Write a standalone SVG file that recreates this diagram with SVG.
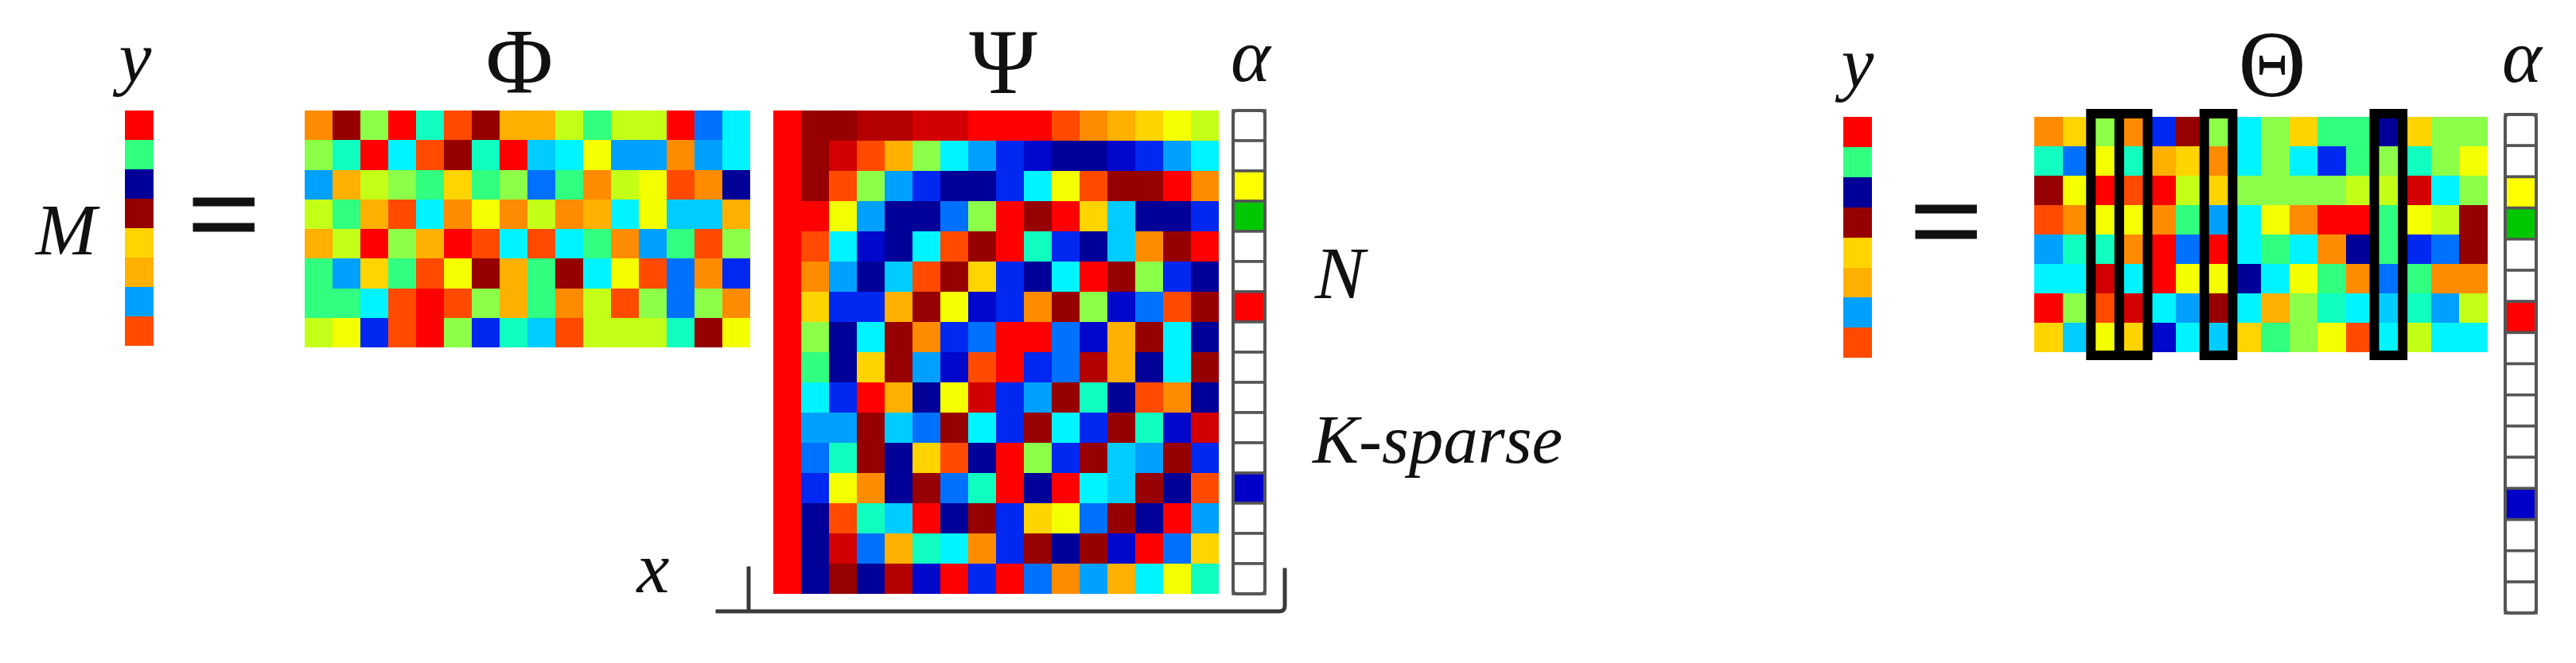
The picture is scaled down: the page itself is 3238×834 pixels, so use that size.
<svg xmlns="http://www.w3.org/2000/svg" width="3238" height="834" viewBox="0 0 3238 834">
<style>
text{font-family:"Liberation Serif","Times New Roman",serif;fill:#111}
.it{font-style:italic}
.mat rect{shape-rendering:crispEdges}
.r{fill:#ff0000}.d{fill:#960000}.f{fill:#b40000}.e{fill:#d20000}.o{fill:#ff4a00}.n{fill:#ff8c00}.g{fill:#ffb000}.h{fill:#ffd400}.y{fill:#f4ff00}.k{fill:#c4ff18}.l{fill:#8cff48}.m{fill:#30ff80}.t{fill:#10ffc0}.c{fill:#00f4ff}.a{fill:#00ccff}.s{fill:#00a0ff}.u{fill:#0070ff}.b{fill:#0028f0}.w{fill:#0008cc}.v{fill:#000098}
.cell{stroke:#555;stroke-width:3.5}
.wh{fill:#fff}.ay{fill:#ffff00}.ag{fill:#00c800}.ar{fill:#ff0000}.ab{fill:#0000c8}
.frame{fill:none;stroke:#555;stroke-width:4}
.box{fill:none;stroke:#000;stroke-width:12}
.br{fill:none;stroke:#3a3a3a;stroke-width:5;stroke-linecap:square}
</style>
<rect width="3238" height="834" fill="#fff"/>

<g id="label-y-left"><text class="it" x="170" y="103" font-size="92" text-anchor="middle">y</text></g>
<g id="label-M"><text class="it" x="83" y="320" font-size="92" text-anchor="middle">M</text></g>

<g id="y-left" class="mat" transform="translate(157,139) scale(36,37)">
<rect x="0" y="0" width="1" height="1" class="r"/><rect x="0" y="1" width="1" height="1" class="m"/><rect x="0" y="2" width="1" height="1" class="v"/><rect x="0" y="3" width="1" height="1" class="d"/><rect x="0" y="4" width="1" height="1" class="h"/><rect x="0" y="5" width="1" height="1" class="g"/><rect x="0" y="6" width="1" height="1" class="s"/><rect x="0" y="7" width="1" height="1" class="o"/>
</g>

<g id="eq-left"><text x="281" y="323" font-size="160" text-anchor="middle" stroke="#111" stroke-width="3">=</text></g>

<g id="label-phi"><text x="653" y="117" font-size="116" text-anchor="middle">Φ</text></g>
<g id="phi" class="mat" transform="translate(383,139) scale(35,37.25)">
<rect x="0" y="0" width="1" height="1" class="n"/><rect x="1" y="0" width="1" height="1" class="d"/><rect x="2" y="0" width="1" height="1" class="l"/><rect x="3" y="0" width="1" height="1" class="r"/><rect x="4" y="0" width="1" height="1" class="t"/><rect x="5" y="0" width="1" height="1" class="o"/><rect x="6" y="0" width="1" height="1" class="d"/><rect x="7" y="0" width="1" height="1" class="g"/><rect x="8" y="0" width="1" height="1" class="g"/><rect x="9" y="0" width="1" height="1" class="k"/><rect x="10" y="0" width="1" height="1" class="m"/><rect x="11" y="0" width="1" height="1" class="k"/><rect x="12" y="0" width="1" height="1" class="k"/><rect x="13" y="0" width="1" height="1" class="r"/><rect x="14" y="0" width="1" height="1" class="u"/><rect x="15" y="0" width="1" height="1" class="c"/>
<rect x="0" y="1" width="1" height="1" class="l"/><rect x="1" y="1" width="1" height="1" class="t"/><rect x="2" y="1" width="1" height="1" class="r"/><rect x="3" y="1" width="1" height="1" class="c"/><rect x="4" y="1" width="1" height="1" class="o"/><rect x="5" y="1" width="1" height="1" class="d"/><rect x="6" y="1" width="1" height="1" class="t"/><rect x="7" y="1" width="1" height="1" class="r"/><rect x="8" y="1" width="1" height="1" class="a"/><rect x="9" y="1" width="1" height="1" class="c"/><rect x="10" y="1" width="1" height="1" class="y"/><rect x="11" y="1" width="1" height="1" class="s"/><rect x="12" y="1" width="1" height="1" class="s"/><rect x="13" y="1" width="1" height="1" class="n"/><rect x="14" y="1" width="1" height="1" class="s"/><rect x="15" y="1" width="1" height="1" class="c"/>
<rect x="0" y="2" width="1" height="1" class="s"/><rect x="1" y="2" width="1" height="1" class="g"/><rect x="2" y="2" width="1" height="1" class="k"/><rect x="3" y="2" width="1" height="1" class="l"/><rect x="4" y="2" width="1" height="1" class="m"/><rect x="5" y="2" width="1" height="1" class="h"/><rect x="6" y="2" width="1" height="1" class="m"/><rect x="7" y="2" width="1" height="1" class="l"/><rect x="8" y="2" width="1" height="1" class="u"/><rect x="9" y="2" width="1" height="1" class="m"/><rect x="10" y="2" width="1" height="1" class="n"/><rect x="11" y="2" width="1" height="1" class="k"/><rect x="12" y="2" width="1" height="1" class="y"/><rect x="13" y="2" width="1" height="1" class="o"/><rect x="14" y="2" width="1" height="1" class="n"/><rect x="15" y="2" width="1" height="1" class="v"/>
<rect x="0" y="3" width="1" height="1" class="k"/><rect x="1" y="3" width="1" height="1" class="m"/><rect x="2" y="3" width="1" height="1" class="g"/><rect x="3" y="3" width="1" height="1" class="o"/><rect x="4" y="3" width="1" height="1" class="c"/><rect x="5" y="3" width="1" height="1" class="n"/><rect x="6" y="3" width="1" height="1" class="y"/><rect x="7" y="3" width="1" height="1" class="n"/><rect x="8" y="3" width="1" height="1" class="k"/><rect x="9" y="3" width="1" height="1" class="n"/><rect x="10" y="3" width="1" height="1" class="g"/><rect x="11" y="3" width="1" height="1" class="c"/><rect x="12" y="3" width="1" height="1" class="y"/><rect x="13" y="3" width="1" height="1" class="a"/><rect x="14" y="3" width="1" height="1" class="a"/><rect x="15" y="3" width="1" height="1" class="g"/>
<rect x="0" y="4" width="1" height="1" class="g"/><rect x="1" y="4" width="1" height="1" class="k"/><rect x="2" y="4" width="1" height="1" class="r"/><rect x="3" y="4" width="1" height="1" class="l"/><rect x="4" y="4" width="1" height="1" class="g"/><rect x="5" y="4" width="1" height="1" class="r"/><rect x="6" y="4" width="1" height="1" class="o"/><rect x="7" y="4" width="1" height="1" class="c"/><rect x="8" y="4" width="1" height="1" class="o"/><rect x="9" y="4" width="1" height="1" class="c"/><rect x="10" y="4" width="1" height="1" class="m"/><rect x="11" y="4" width="1" height="1" class="n"/><rect x="12" y="4" width="1" height="1" class="s"/><rect x="13" y="4" width="1" height="1" class="m"/><rect x="14" y="4" width="1" height="1" class="o"/><rect x="15" y="4" width="1" height="1" class="l"/>
<rect x="0" y="5" width="1" height="1" class="m"/><rect x="1" y="5" width="1" height="1" class="s"/><rect x="2" y="5" width="1" height="1" class="h"/><rect x="3" y="5" width="1" height="1" class="m"/><rect x="4" y="5" width="1" height="1" class="o"/><rect x="5" y="5" width="1" height="1" class="y"/><rect x="6" y="5" width="1" height="1" class="d"/><rect x="7" y="5" width="1" height="1" class="g"/><rect x="8" y="5" width="1" height="1" class="m"/><rect x="9" y="5" width="1" height="1" class="d"/><rect x="10" y="5" width="1" height="1" class="c"/><rect x="11" y="5" width="1" height="1" class="y"/><rect x="12" y="5" width="1" height="1" class="o"/><rect x="13" y="5" width="1" height="1" class="u"/><rect x="14" y="5" width="1" height="1" class="n"/><rect x="15" y="5" width="1" height="1" class="b"/>
<rect x="0" y="6" width="1" height="1" class="m"/><rect x="1" y="6" width="1" height="1" class="m"/><rect x="2" y="6" width="1" height="1" class="c"/><rect x="3" y="6" width="1" height="1" class="o"/><rect x="4" y="6" width="1" height="1" class="r"/><rect x="5" y="6" width="1" height="1" class="o"/><rect x="6" y="6" width="1" height="1" class="l"/><rect x="7" y="6" width="1" height="1" class="g"/><rect x="8" y="6" width="1" height="1" class="m"/><rect x="9" y="6" width="1" height="1" class="n"/><rect x="10" y="6" width="1" height="1" class="k"/><rect x="11" y="6" width="1" height="1" class="o"/><rect x="12" y="6" width="1" height="1" class="l"/><rect x="13" y="6" width="1" height="1" class="u"/><rect x="14" y="6" width="1" height="1" class="l"/><rect x="15" y="6" width="1" height="1" class="n"/>
<rect x="0" y="7" width="1" height="1" class="k"/><rect x="1" y="7" width="1" height="1" class="y"/><rect x="2" y="7" width="1" height="1" class="b"/><rect x="3" y="7" width="1" height="1" class="o"/><rect x="4" y="7" width="1" height="1" class="r"/><rect x="5" y="7" width="1" height="1" class="l"/><rect x="6" y="7" width="1" height="1" class="b"/><rect x="7" y="7" width="1" height="1" class="t"/><rect x="8" y="7" width="1" height="1" class="a"/><rect x="9" y="7" width="1" height="1" class="o"/><rect x="10" y="7" width="1" height="1" class="k"/><rect x="11" y="7" width="1" height="1" class="k"/><rect x="12" y="7" width="1" height="1" class="k"/><rect x="13" y="7" width="1" height="1" class="t"/><rect x="14" y="7" width="1" height="1" class="d"/><rect x="15" y="7" width="1" height="1" class="y"/>
</g>

<g id="label-psi"><text x="1261" y="117" font-size="116" text-anchor="middle">Ψ</text></g>
<g id="psi" class="mat" transform="translate(972,139) scale(35,38)">
<rect x="0" y="0" width="1" height="1" class="r"/><rect x="1" y="0" width="1" height="1" class="d"/><rect x="2" y="0" width="1" height="1" class="d"/><rect x="3" y="0" width="1" height="1" class="f"/><rect x="4" y="0" width="1" height="1" class="f"/><rect x="5" y="0" width="1" height="1" class="e"/><rect x="6" y="0" width="1" height="1" class="e"/><rect x="7" y="0" width="1" height="1" class="r"/><rect x="8" y="0" width="1" height="1" class="r"/><rect x="9" y="0" width="1" height="1" class="r"/><rect x="10" y="0" width="1" height="1" class="o"/><rect x="11" y="0" width="1" height="1" class="n"/><rect x="12" y="0" width="1" height="1" class="g"/><rect x="13" y="0" width="1" height="1" class="h"/><rect x="14" y="0" width="1" height="1" class="y"/><rect x="15" y="0" width="1" height="1" class="k"/>
<rect x="0" y="1" width="1" height="1" class="r"/><rect x="1" y="1" width="1" height="1" class="d"/><rect x="2" y="1" width="1" height="1" class="e"/><rect x="3" y="1" width="1" height="1" class="o"/><rect x="4" y="1" width="1" height="1" class="g"/><rect x="5" y="1" width="1" height="1" class="l"/><rect x="6" y="1" width="1" height="1" class="c"/><rect x="7" y="1" width="1" height="1" class="s"/><rect x="8" y="1" width="1" height="1" class="b"/><rect x="9" y="1" width="1" height="1" class="w"/><rect x="10" y="1" width="1" height="1" class="v"/><rect x="11" y="1" width="1" height="1" class="v"/><rect x="12" y="1" width="1" height="1" class="w"/><rect x="13" y="1" width="1" height="1" class="b"/><rect x="14" y="1" width="1" height="1" class="s"/><rect x="15" y="1" width="1" height="1" class="c"/>
<rect x="0" y="2" width="1" height="1" class="r"/><rect x="1" y="2" width="1" height="1" class="d"/><rect x="2" y="2" width="1" height="1" class="o"/><rect x="3" y="2" width="1" height="1" class="l"/><rect x="4" y="2" width="1" height="1" class="s"/><rect x="5" y="2" width="1" height="1" class="b"/><rect x="6" y="2" width="1" height="1" class="v"/><rect x="7" y="2" width="1" height="1" class="v"/><rect x="8" y="2" width="1" height="1" class="b"/><rect x="9" y="2" width="1" height="1" class="c"/><rect x="10" y="2" width="1" height="1" class="y"/><rect x="11" y="2" width="1" height="1" class="o"/><rect x="12" y="2" width="1" height="1" class="d"/><rect x="13" y="2" width="1" height="1" class="d"/><rect x="14" y="2" width="1" height="1" class="r"/><rect x="15" y="2" width="1" height="1" class="n"/>
<rect x="0" y="3" width="1" height="1" class="r"/><rect x="1" y="3" width="1" height="1" class="r"/><rect x="2" y="3" width="1" height="1" class="y"/><rect x="3" y="3" width="1" height="1" class="s"/><rect x="4" y="3" width="1" height="1" class="v"/><rect x="5" y="3" width="1" height="1" class="v"/><rect x="6" y="3" width="1" height="1" class="u"/><rect x="7" y="3" width="1" height="1" class="l"/><rect x="8" y="3" width="1" height="1" class="r"/><rect x="9" y="3" width="1" height="1" class="d"/><rect x="10" y="3" width="1" height="1" class="r"/><rect x="11" y="3" width="1" height="1" class="h"/><rect x="12" y="3" width="1" height="1" class="a"/><rect x="13" y="3" width="1" height="1" class="v"/><rect x="14" y="3" width="1" height="1" class="v"/><rect x="15" y="3" width="1" height="1" class="b"/>
<rect x="0" y="4" width="1" height="1" class="r"/><rect x="1" y="4" width="1" height="1" class="o"/><rect x="2" y="4" width="1" height="1" class="c"/><rect x="3" y="4" width="1" height="1" class="w"/><rect x="4" y="4" width="1" height="1" class="v"/><rect x="5" y="4" width="1" height="1" class="c"/><rect x="6" y="4" width="1" height="1" class="o"/><rect x="7" y="4" width="1" height="1" class="d"/><rect x="8" y="4" width="1" height="1" class="r"/><rect x="9" y="4" width="1" height="1" class="t"/><rect x="10" y="4" width="1" height="1" class="b"/><rect x="11" y="4" width="1" height="1" class="v"/><rect x="12" y="4" width="1" height="1" class="a"/><rect x="13" y="4" width="1" height="1" class="n"/><rect x="14" y="4" width="1" height="1" class="d"/><rect x="15" y="4" width="1" height="1" class="r"/>
<rect x="0" y="5" width="1" height="1" class="r"/><rect x="1" y="5" width="1" height="1" class="n"/><rect x="2" y="5" width="1" height="1" class="s"/><rect x="3" y="5" width="1" height="1" class="v"/><rect x="4" y="5" width="1" height="1" class="a"/><rect x="5" y="5" width="1" height="1" class="o"/><rect x="6" y="5" width="1" height="1" class="d"/><rect x="7" y="5" width="1" height="1" class="h"/><rect x="8" y="5" width="1" height="1" class="b"/><rect x="9" y="5" width="1" height="1" class="v"/><rect x="10" y="5" width="1" height="1" class="c"/><rect x="11" y="5" width="1" height="1" class="r"/><rect x="12" y="5" width="1" height="1" class="d"/><rect x="13" y="5" width="1" height="1" class="l"/><rect x="14" y="5" width="1" height="1" class="b"/><rect x="15" y="5" width="1" height="1" class="v"/>
<rect x="0" y="6" width="1" height="1" class="r"/><rect x="1" y="6" width="1" height="1" class="h"/><rect x="2" y="6" width="1" height="1" class="b"/><rect x="3" y="6" width="1" height="1" class="b"/><rect x="4" y="6" width="1" height="1" class="g"/><rect x="5" y="6" width="1" height="1" class="d"/><rect x="6" y="6" width="1" height="1" class="y"/><rect x="7" y="6" width="1" height="1" class="w"/><rect x="8" y="6" width="1" height="1" class="b"/><rect x="9" y="6" width="1" height="1" class="n"/><rect x="10" y="6" width="1" height="1" class="d"/><rect x="11" y="6" width="1" height="1" class="l"/><rect x="12" y="6" width="1" height="1" class="w"/><rect x="13" y="6" width="1" height="1" class="u"/><rect x="14" y="6" width="1" height="1" class="o"/><rect x="15" y="6" width="1" height="1" class="d"/>
<rect x="0" y="7" width="1" height="1" class="r"/><rect x="1" y="7" width="1" height="1" class="l"/><rect x="2" y="7" width="1" height="1" class="v"/><rect x="3" y="7" width="1" height="1" class="c"/><rect x="4" y="7" width="1" height="1" class="d"/><rect x="5" y="7" width="1" height="1" class="n"/><rect x="6" y="7" width="1" height="1" class="b"/><rect x="7" y="7" width="1" height="1" class="u"/><rect x="8" y="7" width="1" height="1" class="r"/><rect x="9" y="7" width="1" height="1" class="r"/><rect x="10" y="7" width="1" height="1" class="u"/><rect x="11" y="7" width="1" height="1" class="w"/><rect x="12" y="7" width="1" height="1" class="g"/><rect x="13" y="7" width="1" height="1" class="d"/><rect x="14" y="7" width="1" height="1" class="c"/><rect x="15" y="7" width="1" height="1" class="v"/>
<rect x="0" y="8" width="1" height="1" class="r"/><rect x="1" y="8" width="1" height="1" class="m"/><rect x="2" y="8" width="1" height="1" class="v"/><rect x="3" y="8" width="1" height="1" class="h"/><rect x="4" y="8" width="1" height="1" class="d"/><rect x="5" y="8" width="1" height="1" class="s"/><rect x="6" y="8" width="1" height="1" class="w"/><rect x="7" y="8" width="1" height="1" class="o"/><rect x="8" y="8" width="1" height="1" class="r"/><rect x="9" y="8" width="1" height="1" class="b"/><rect x="10" y="8" width="1" height="1" class="u"/><rect x="11" y="8" width="1" height="1" class="f"/><rect x="12" y="8" width="1" height="1" class="g"/><rect x="13" y="8" width="1" height="1" class="v"/><rect x="14" y="8" width="1" height="1" class="c"/><rect x="15" y="8" width="1" height="1" class="d"/>
<rect x="0" y="9" width="1" height="1" class="r"/><rect x="1" y="9" width="1" height="1" class="c"/><rect x="2" y="9" width="1" height="1" class="b"/><rect x="3" y="9" width="1" height="1" class="r"/><rect x="4" y="9" width="1" height="1" class="g"/><rect x="5" y="9" width="1" height="1" class="v"/><rect x="6" y="9" width="1" height="1" class="y"/><rect x="7" y="9" width="1" height="1" class="e"/><rect x="8" y="9" width="1" height="1" class="b"/><rect x="9" y="9" width="1" height="1" class="s"/><rect x="10" y="9" width="1" height="1" class="d"/><rect x="11" y="9" width="1" height="1" class="t"/><rect x="12" y="9" width="1" height="1" class="v"/><rect x="13" y="9" width="1" height="1" class="o"/><rect x="14" y="9" width="1" height="1" class="n"/><rect x="15" y="9" width="1" height="1" class="v"/>
<rect x="0" y="10" width="1" height="1" class="r"/><rect x="1" y="10" width="1" height="1" class="s"/><rect x="2" y="10" width="1" height="1" class="s"/><rect x="3" y="10" width="1" height="1" class="d"/><rect x="4" y="10" width="1" height="1" class="a"/><rect x="5" y="10" width="1" height="1" class="u"/><rect x="6" y="10" width="1" height="1" class="d"/><rect x="7" y="10" width="1" height="1" class="c"/><rect x="8" y="10" width="1" height="1" class="b"/><rect x="9" y="10" width="1" height="1" class="d"/><rect x="10" y="10" width="1" height="1" class="c"/><rect x="11" y="10" width="1" height="1" class="b"/><rect x="12" y="10" width="1" height="1" class="d"/><rect x="13" y="10" width="1" height="1" class="t"/><rect x="14" y="10" width="1" height="1" class="w"/><rect x="15" y="10" width="1" height="1" class="e"/>
<rect x="0" y="11" width="1" height="1" class="r"/><rect x="1" y="11" width="1" height="1" class="u"/><rect x="2" y="11" width="1" height="1" class="t"/><rect x="3" y="11" width="1" height="1" class="d"/><rect x="4" y="11" width="1" height="1" class="v"/><rect x="5" y="11" width="1" height="1" class="h"/><rect x="6" y="11" width="1" height="1" class="o"/><rect x="7" y="11" width="1" height="1" class="v"/><rect x="8" y="11" width="1" height="1" class="r"/><rect x="9" y="11" width="1" height="1" class="l"/><rect x="10" y="11" width="1" height="1" class="b"/><rect x="11" y="11" width="1" height="1" class="d"/><rect x="12" y="11" width="1" height="1" class="a"/><rect x="13" y="11" width="1" height="1" class="s"/><rect x="14" y="11" width="1" height="1" class="d"/><rect x="15" y="11" width="1" height="1" class="b"/>
<rect x="0" y="12" width="1" height="1" class="r"/><rect x="1" y="12" width="1" height="1" class="b"/><rect x="2" y="12" width="1" height="1" class="y"/><rect x="3" y="12" width="1" height="1" class="n"/><rect x="4" y="12" width="1" height="1" class="v"/><rect x="5" y="12" width="1" height="1" class="d"/><rect x="6" y="12" width="1" height="1" class="u"/><rect x="7" y="12" width="1" height="1" class="t"/><rect x="8" y="12" width="1" height="1" class="r"/><rect x="9" y="12" width="1" height="1" class="v"/><rect x="10" y="12" width="1" height="1" class="r"/><rect x="11" y="12" width="1" height="1" class="c"/><rect x="12" y="12" width="1" height="1" class="a"/><rect x="13" y="12" width="1" height="1" class="d"/><rect x="14" y="12" width="1" height="1" class="v"/><rect x="15" y="12" width="1" height="1" class="o"/>
<rect x="0" y="13" width="1" height="1" class="r"/><rect x="1" y="13" width="1" height="1" class="v"/><rect x="2" y="13" width="1" height="1" class="o"/><rect x="3" y="13" width="1" height="1" class="t"/><rect x="4" y="13" width="1" height="1" class="a"/><rect x="5" y="13" width="1" height="1" class="r"/><rect x="6" y="13" width="1" height="1" class="v"/><rect x="7" y="13" width="1" height="1" class="d"/><rect x="8" y="13" width="1" height="1" class="b"/><rect x="9" y="13" width="1" height="1" class="h"/><rect x="10" y="13" width="1" height="1" class="y"/><rect x="11" y="13" width="1" height="1" class="u"/><rect x="12" y="13" width="1" height="1" class="d"/><rect x="13" y="13" width="1" height="1" class="v"/><rect x="14" y="13" width="1" height="1" class="r"/><rect x="15" y="13" width="1" height="1" class="s"/>
<rect x="0" y="14" width="1" height="1" class="r"/><rect x="1" y="14" width="1" height="1" class="v"/><rect x="2" y="14" width="1" height="1" class="e"/><rect x="3" y="14" width="1" height="1" class="u"/><rect x="4" y="14" width="1" height="1" class="g"/><rect x="5" y="14" width="1" height="1" class="t"/><rect x="6" y="14" width="1" height="1" class="c"/><rect x="7" y="14" width="1" height="1" class="n"/><rect x="8" y="14" width="1" height="1" class="b"/><rect x="9" y="14" width="1" height="1" class="d"/><rect x="10" y="14" width="1" height="1" class="v"/><rect x="11" y="14" width="1" height="1" class="d"/><rect x="12" y="14" width="1" height="1" class="w"/><rect x="13" y="14" width="1" height="1" class="r"/><rect x="14" y="14" width="1" height="1" class="u"/><rect x="15" y="14" width="1" height="1" class="h"/>
<rect x="0" y="15" width="1" height="1" class="r"/><rect x="1" y="15" width="1" height="1" class="v"/><rect x="2" y="15" width="1" height="1" class="d"/><rect x="3" y="15" width="1" height="1" class="v"/><rect x="4" y="15" width="1" height="1" class="f"/><rect x="5" y="15" width="1" height="1" class="w"/><rect x="6" y="15" width="1" height="1" class="r"/><rect x="7" y="15" width="1" height="1" class="b"/><rect x="8" y="15" width="1" height="1" class="r"/><rect x="9" y="15" width="1" height="1" class="u"/><rect x="10" y="15" width="1" height="1" class="n"/><rect x="11" y="15" width="1" height="1" class="s"/><rect x="12" y="15" width="1" height="1" class="g"/><rect x="13" y="15" width="1" height="1" class="c"/><rect x="14" y="15" width="1" height="1" class="y"/><rect x="15" y="15" width="1" height="1" class="t"/>
</g>

<g id="label-alpha-left"><text class="it" x="1572" y="102" font-size="95" text-anchor="middle">α</text></g>
<g id="alpha-left">
<rect x="1550" y="139" width="40" height="38" class="cell wh"/><rect x="1550" y="177" width="40" height="38" class="cell wh"/><rect x="1550" y="215" width="40" height="38" class="cell ay"/><rect x="1550" y="253" width="40" height="38" class="cell ag"/><rect x="1550" y="291" width="40" height="38" class="cell wh"/><rect x="1550" y="329" width="40" height="38" class="cell wh"/><rect x="1550" y="367" width="40" height="38" class="cell ar"/><rect x="1550" y="405" width="40" height="38" class="cell wh"/><rect x="1550" y="443" width="40" height="38" class="cell wh"/><rect x="1550" y="481" width="40" height="38" class="cell wh"/><rect x="1550" y="519" width="40" height="38" class="cell wh"/><rect x="1550" y="557" width="40" height="38" class="cell wh"/><rect x="1550" y="595" width="40" height="38" class="cell ab"/><rect x="1550" y="633" width="40" height="38" class="cell wh"/><rect x="1550" y="671" width="40" height="38" class="cell wh"/><rect x="1550" y="709" width="40" height="38" class="cell wh"/>
<rect x="1550" y="139" width="40" height="608" rx="5" class="frame"/>
</g>

<g id="label-N"><text class="it" x="1684" y="375" font-size="94" text-anchor="middle">N</text></g>
<g id="label-K-sparse"><text class="it" x="1650" y="582" font-size="87">K-sparse</text></g>
<g id="label-x"><text class="it" x="821" y="745" font-size="92" text-anchor="middle">x</text></g>

<g id="connectors">
<path class="br" d="M902,769 H1608 Q1615,769 1615,762 V717 M941,769 V715"/>
</g>

<g id="label-y-right"><text class="it" x="2335" y="110" font-size="92" text-anchor="middle">y</text></g>
<g id="y-right" class="mat" transform="translate(2317,147) scale(36,37.9)">
<rect x="0" y="0" width="1" height="1" class="r"/><rect x="0" y="1" width="1" height="1" class="m"/><rect x="0" y="2" width="1" height="1" class="v"/><rect x="0" y="3" width="1" height="1" class="d"/><rect x="0" y="4" width="1" height="1" class="h"/><rect x="0" y="5" width="1" height="1" class="g"/><rect x="0" y="6" width="1" height="1" class="s"/><rect x="0" y="7" width="1" height="1" class="o"/>
</g>

<g id="eq-right"><text x="2446" y="332" font-size="160" text-anchor="middle" stroke="#111" stroke-width="3">=</text></g>

<g id="label-theta"><text x="2856" y="121" font-size="118" text-anchor="middle">Θ</text></g>
<g id="theta" class="mat" transform="translate(2557,147) scale(35.625,37)">
<rect x="0" y="0" width="1" height="1" class="n"/><rect x="1" y="0" width="1" height="1" class="h"/><rect x="2" y="0" width="1" height="1" class="l"/><rect x="3" y="0" width="1" height="1" class="n"/><rect x="4" y="0" width="1" height="1" class="b"/><rect x="5" y="0" width="1" height="1" class="d"/><rect x="6" y="0" width="1" height="1" class="l"/><rect x="7" y="0" width="1" height="1" class="c"/><rect x="8" y="0" width="1" height="1" class="l"/><rect x="9" y="0" width="1" height="1" class="h"/><rect x="10" y="0" width="1" height="1" class="m"/><rect x="11" y="0" width="1" height="1" class="m"/><rect x="12" y="0" width="1" height="1" class="v"/><rect x="13" y="0" width="1" height="1" class="h"/><rect x="14" y="0" width="1" height="1" class="l"/><rect x="15" y="0" width="1" height="1" class="l"/>
<rect x="0" y="1" width="1" height="1" class="t"/><rect x="1" y="1" width="1" height="1" class="u"/><rect x="2" y="1" width="1" height="1" class="y"/><rect x="3" y="1" width="1" height="1" class="t"/><rect x="4" y="1" width="1" height="1" class="g"/><rect x="5" y="1" width="1" height="1" class="h"/><rect x="6" y="1" width="1" height="1" class="n"/><rect x="7" y="1" width="1" height="1" class="c"/><rect x="8" y="1" width="1" height="1" class="l"/><rect x="9" y="1" width="1" height="1" class="c"/><rect x="10" y="1" width="1" height="1" class="b"/><rect x="11" y="1" width="1" height="1" class="m"/><rect x="12" y="1" width="1" height="1" class="l"/><rect x="13" y="1" width="1" height="1" class="t"/><rect x="14" y="1" width="1" height="1" class="l"/><rect x="15" y="1" width="1" height="1" class="y"/>
<rect x="0" y="2" width="1" height="1" class="d"/><rect x="1" y="2" width="1" height="1" class="y"/><rect x="2" y="2" width="1" height="1" class="r"/><rect x="3" y="2" width="1" height="1" class="o"/><rect x="4" y="2" width="1" height="1" class="r"/><rect x="5" y="2" width="1" height="1" class="k"/><rect x="6" y="2" width="1" height="1" class="h"/><rect x="7" y="2" width="1" height="1" class="l"/><rect x="8" y="2" width="1" height="1" class="l"/><rect x="9" y="2" width="1" height="1" class="l"/><rect x="10" y="2" width="1" height="1" class="l"/><rect x="11" y="2" width="1" height="1" class="k"/><rect x="12" y="2" width="1" height="1" class="k"/><rect x="13" y="2" width="1" height="1" class="e"/><rect x="14" y="2" width="1" height="1" class="c"/><rect x="15" y="2" width="1" height="1" class="l"/>
<rect x="0" y="3" width="1" height="1" class="o"/><rect x="1" y="3" width="1" height="1" class="n"/><rect x="2" y="3" width="1" height="1" class="y"/><rect x="3" y="3" width="1" height="1" class="y"/><rect x="4" y="3" width="1" height="1" class="n"/><rect x="5" y="3" width="1" height="1" class="m"/><rect x="6" y="3" width="1" height="1" class="s"/><rect x="7" y="3" width="1" height="1" class="c"/><rect x="8" y="3" width="1" height="1" class="y"/><rect x="9" y="3" width="1" height="1" class="n"/><rect x="10" y="3" width="1" height="1" class="r"/><rect x="11" y="3" width="1" height="1" class="r"/><rect x="12" y="3" width="1" height="1" class="m"/><rect x="13" y="3" width="1" height="1" class="y"/><rect x="14" y="3" width="1" height="1" class="k"/><rect x="15" y="3" width="1" height="1" class="d"/>
<rect x="0" y="4" width="1" height="1" class="s"/><rect x="1" y="4" width="1" height="1" class="t"/><rect x="2" y="4" width="1" height="1" class="t"/><rect x="3" y="4" width="1" height="1" class="n"/><rect x="4" y="4" width="1" height="1" class="r"/><rect x="5" y="4" width="1" height="1" class="u"/><rect x="6" y="4" width="1" height="1" class="r"/><rect x="7" y="4" width="1" height="1" class="c"/><rect x="8" y="4" width="1" height="1" class="m"/><rect x="9" y="4" width="1" height="1" class="c"/><rect x="10" y="4" width="1" height="1" class="n"/><rect x="11" y="4" width="1" height="1" class="v"/><rect x="12" y="4" width="1" height="1" class="m"/><rect x="13" y="4" width="1" height="1" class="b"/><rect x="14" y="4" width="1" height="1" class="u"/><rect x="15" y="4" width="1" height="1" class="d"/>
<rect x="0" y="5" width="1" height="1" class="c"/><rect x="1" y="5" width="1" height="1" class="c"/><rect x="2" y="5" width="1" height="1" class="e"/><rect x="3" y="5" width="1" height="1" class="c"/><rect x="4" y="5" width="1" height="1" class="r"/><rect x="5" y="5" width="1" height="1" class="y"/><rect x="6" y="5" width="1" height="1" class="y"/><rect x="7" y="5" width="1" height="1" class="v"/><rect x="8" y="5" width="1" height="1" class="c"/><rect x="9" y="5" width="1" height="1" class="y"/><rect x="10" y="5" width="1" height="1" class="m"/><rect x="11" y="5" width="1" height="1" class="n"/><rect x="12" y="5" width="1" height="1" class="u"/><rect x="13" y="5" width="1" height="1" class="m"/><rect x="14" y="5" width="1" height="1" class="n"/><rect x="15" y="5" width="1" height="1" class="n"/>
<rect x="0" y="6" width="1" height="1" class="r"/><rect x="1" y="6" width="1" height="1" class="l"/><rect x="2" y="6" width="1" height="1" class="o"/><rect x="3" y="6" width="1" height="1" class="e"/><rect x="4" y="6" width="1" height="1" class="c"/><rect x="5" y="6" width="1" height="1" class="s"/><rect x="6" y="6" width="1" height="1" class="d"/><rect x="7" y="6" width="1" height="1" class="c"/><rect x="8" y="6" width="1" height="1" class="g"/><rect x="9" y="6" width="1" height="1" class="l"/><rect x="10" y="6" width="1" height="1" class="t"/><rect x="11" y="6" width="1" height="1" class="c"/><rect x="12" y="6" width="1" height="1" class="a"/><rect x="13" y="6" width="1" height="1" class="t"/><rect x="14" y="6" width="1" height="1" class="s"/><rect x="15" y="6" width="1" height="1" class="k"/>
<rect x="0" y="7" width="1" height="1" class="h"/><rect x="1" y="7" width="1" height="1" class="a"/><rect x="2" y="7" width="1" height="1" class="y"/><rect x="3" y="7" width="1" height="1" class="h"/><rect x="4" y="7" width="1" height="1" class="w"/><rect x="5" y="7" width="1" height="1" class="c"/><rect x="6" y="7" width="1" height="1" class="a"/><rect x="7" y="7" width="1" height="1" class="h"/><rect x="8" y="7" width="1" height="1" class="m"/><rect x="9" y="7" width="1" height="1" class="l"/><rect x="10" y="7" width="1" height="1" class="y"/><rect x="11" y="7" width="1" height="1" class="o"/><rect x="12" y="7" width="1" height="1" class="c"/><rect x="13" y="7" width="1" height="1" class="k"/><rect x="14" y="7" width="1" height="1" class="c"/><rect x="15" y="7" width="1" height="1" class="c"/>
</g>
<g id="theta-selection">
<rect x="2628.25" y="143" width="35.625" height="304" class="box"/>
<rect x="2663.9" y="143" width="35.625" height="304" class="box"/>
<rect x="2770.75" y="143" width="35.625" height="304" class="box"/>
<rect x="2984.5" y="143" width="35.625" height="304" class="box"/>
</g>

<g id="label-alpha-right"><text class="it" x="3170" y="103" font-size="95" text-anchor="middle">α</text></g>
<g id="alpha-right">
<rect x="3149" y="144" width="39" height="39.2" class="cell wh"/><rect x="3149" y="183.2" width="39" height="39.2" class="cell wh"/><rect x="3149" y="222.4" width="39" height="39.2" class="cell ay"/><rect x="3149" y="261.6" width="39" height="39.2" class="cell ag"/><rect x="3149" y="300.8" width="39" height="39.2" class="cell wh"/><rect x="3149" y="340" width="39" height="39.2" class="cell wh"/><rect x="3149" y="379.2" width="39" height="39.2" class="cell ar"/><rect x="3149" y="418.4" width="39" height="39.2" class="cell wh"/><rect x="3149" y="457.6" width="39" height="39.2" class="cell wh"/><rect x="3149" y="496.8" width="39" height="39.2" class="cell wh"/><rect x="3149" y="536" width="39" height="39.2" class="cell wh"/><rect x="3149" y="575.2" width="39" height="39.2" class="cell wh"/><rect x="3149" y="614.4" width="39" height="39.2" class="cell ab"/><rect x="3149" y="653.6" width="39" height="39.2" class="cell wh"/><rect x="3149" y="692.8" width="39" height="39.2" class="cell wh"/><rect x="3149" y="732" width="39" height="39.2" class="cell wh"/>
<rect x="3149" y="144" width="39" height="627.2" rx="5" class="frame"/>
</g>
</svg>
